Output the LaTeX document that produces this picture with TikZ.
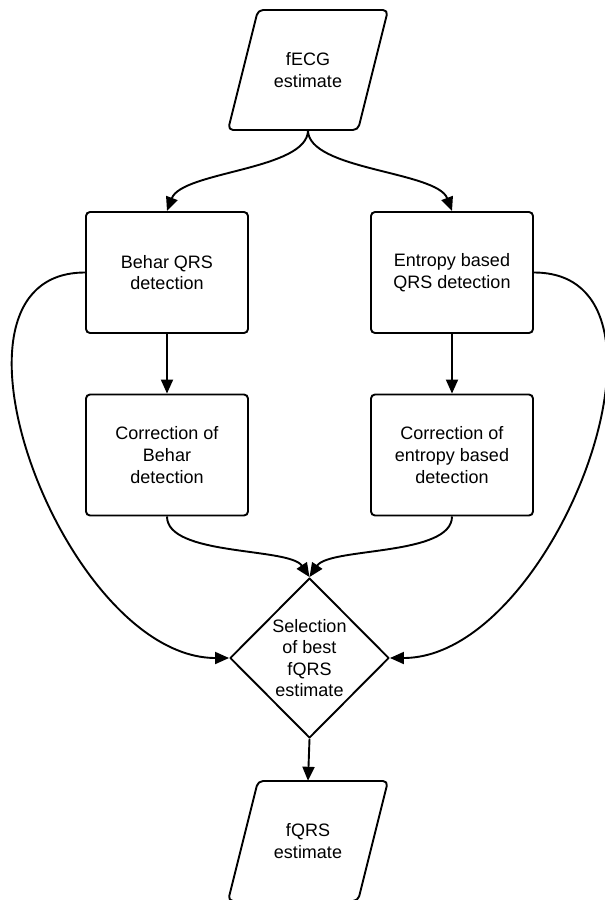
\documentclass[tikz,border=0pt]{standalone}
\usepackage{fontspec}
\setmainfont{Liberation Sans}
\usetikzlibrary{arrows.meta,shapes.geometric}
\begin{document}
\begin{tikzpicture}[x=1pt,y=-1pt,
  txt/.style={align=center, font=\fontsize{18}{21.6}\selectfont, inner sep=0pt},
  box/.style={txt, draw, line width=1.9pt, rounded corners=4pt, minimum width=162pt, minimum height=121pt},
  io/.style={txt, minimum width=130pt, minimum height=120pt},
  shapeline/.style={line width=1.9pt, rounded corners=5pt, line join=round},
  dia/.style={draw, diamond, line width=1.9pt, line join=round, minimum width=159pt, minimum height=160pt, inner sep=0pt},
  conn/.style={line width=1.9pt, -{Triangle[length=14pt,width=12pt]}}
]
\useasboundingbox (0,0) rectangle (605,900);

% input
\node[io] (fecg) at (308,70) {fECG\\estimate};
\draw[shapeline] (258,10) -- (388,10) -- (358,130) -- (228,130) -- cycle;

% boxes
\node[box] (behar) at (167,272.5) {Behar QRS\\detection};
\node[box] (entropy) at (452,272.5) {Entropy based\\QRS detection};
\node[box] (corrb) at (167,455) {Correction of\\Behar\\detection};
\node[box] (corre) at (452,455) {Correction of\\entropy based\\detection};

% decision
\node[dia] (sel) at (309.5,658) {};
\node[txt] (seltxt) at (sel.center) {Selection\\of best\\fQRS\\estimate};

% output
\node[io] (fqrs) at (308,841) {fQRS\\estimate};
\draw[shapeline] (258,781) -- (388,781) -- (358,901) -- (228,901) -- cycle;

% connectors
\draw[conn] (fecg.south) .. controls +(0,40) and +(15,-40) .. (behar.north);
\draw[conn] (fecg.south) .. controls +(0,40) and +(-15,-40) .. (entropy.north);
\draw[conn] (behar.south) -- (corrb.north);
\draw[conn] (entropy.south) -- (corre.north);
\draw[conn] (corrb.south) .. controls +(0,40) and +(-20,-30) .. (sel.north);
\draw[conn] (corre.south) .. controls +(0,40) and +(20,-30) .. (sel.north);
\draw[conn] (behar.west) .. controls +(-165,0) and +(-165,0) .. (sel.west);
\draw[conn] (entropy.east) .. controls +(165,0) and +(165,0) .. (sel.east);
\draw[conn] (sel.south) -- (fqrs.north);
\end{tikzpicture}
\end{document}
